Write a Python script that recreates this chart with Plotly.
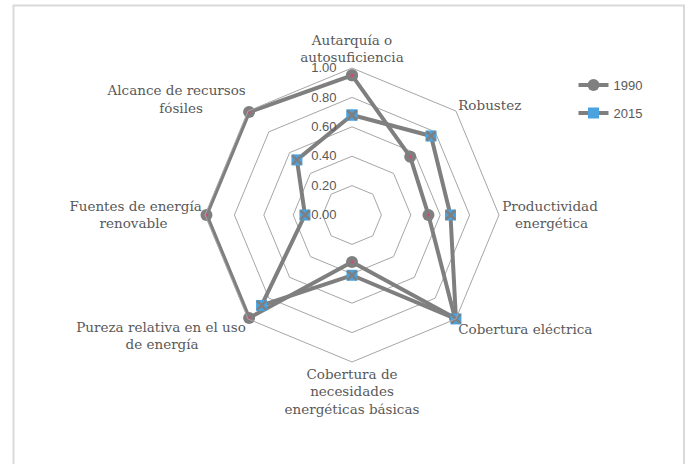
import plotly.graph_objects as go

NB = "\u00a0"

# categories, clockwise from the top (nbsp padding centres the two-line labels)
categorias = [
    "Autarquía o<br>autosuficiencia",
    "Robustez",
    "Productividad<br>" + NB * 3 + "energética",
    "Cobertura eléctrica",
    "Cobertura de<br>necesidades<br>energéticas básicas",
    "Pureza relativa en el uso<br>de energía" + NB * 11,
    "Fuentes de energía<br>renovable" + NB * 8,
    "Alcance de recursos<br>fósiles" + NB * 10,
]
valores_1990 = [0.95, 0.56, 0.52, 0.99, 0.32, 0.99, 0.99, 0.99]
valores_2015 = [0.68, 0.76, 0.67, 1.00, 0.41, 0.87, 0.32, 0.53]
ticks_radial = [0, 0.2, 0.4, 0.6, 0.8, 1.0]
textos_radial = ["0.00", "0.20", "0.40", "0.60", "0.80", "1.00"]

GRIS = "#7f7f7f"
AZUL = "#4aa3df"
TEXTO = "#595959"

# close the polygons
theta = categorias + categorias[:1]
r90 = valores_1990 + valores_1990[:1]
r15 = valores_2015 + valores_2015[:1]

fig = go.Figure()

fig.add_trace(go.Scatterpolar(
    r=r90, theta=theta, name="1990", mode="lines+markers", legendgroup="a",
    line=dict(color=GRIS, width=4),
    marker=dict(symbol="circle", size=12, color=GRIS),
))
# small pink dot in the middle of the circles
fig.add_trace(go.Scatterpolar(
    r=r90, theta=theta, mode="markers", showlegend=False, hoverinfo="skip",
    marker=dict(symbol="circle", size=3, color="#d04a7a"),
))
fig.add_trace(go.Scatterpolar(
    r=r15, theta=theta, name="2015", mode="lines+markers", legendgroup="b",
    line=dict(color=GRIS, width=4),
    marker=dict(symbol="square", size=11, color=AZUL),
))
# gray cross on the blue squares
fig.add_trace(go.Scatterpolar(
    r=r15, theta=theta, mode="markers", showlegend=False, hoverinfo="skip",
    marker=dict(symbol="x-thin", size=9, line=dict(color=GRIS, width=2.5)),
))

fig.update_layout(
    width=686, height=464,
    margin=dict(l=0, r=0, t=0, b=0),
    paper_bgcolor="white",
    font=dict(family="DejaVu Serif", size=13.5, color=TEXTO),
    polar=dict(
        domain=dict(x=[205 / 686, 499 / 686], y=[102 / 464, 396 / 464]),
        gridshape="linear",
        bgcolor="white",
        angularaxis=dict(
            direction="clockwise", rotation=90,
            showgrid=False, showline=True, linecolor="#a6a6a6", linewidth=1,
            ticks="", tickfont=dict(family="DejaVu Serif", size=13.5, color=TEXTO),
        ),
        radialaxis=dict(
            range=[0, 1], tickvals=ticks_radial,
            ticktext=[t + "\u2003" for t in textos_radial],
            angle=90, tickangle=90, side="counterclockwise",
            showline=False, ticks="",
            gridcolor="#a6a6a6", gridwidth=1,
            tickfont=dict(family="Liberation Sans", size=13, color=TEXTO),
        ),
    ),
    legend=dict(
        x=0.836, y=0.849, xanchor="left", yanchor="top",
        font=dict(family="Liberation Sans", size=13, color=TEXTO),
        bgcolor="rgba(0,0,0,0)", tracegroupgap=8,
    ),
    shapes=[dict(
        type="rect", xref="paper", yref="paper",
        x0=13.5 / 686, x1=684 / 686, y0=-0.05, y1=1 - 5.5 / 464,
        line=dict(color="#d9d9d9", width=2),
    )],
)

fig.write_html("out.html", config={"displayModeBar": False},
               post_script="document.body.style.margin='0';")
